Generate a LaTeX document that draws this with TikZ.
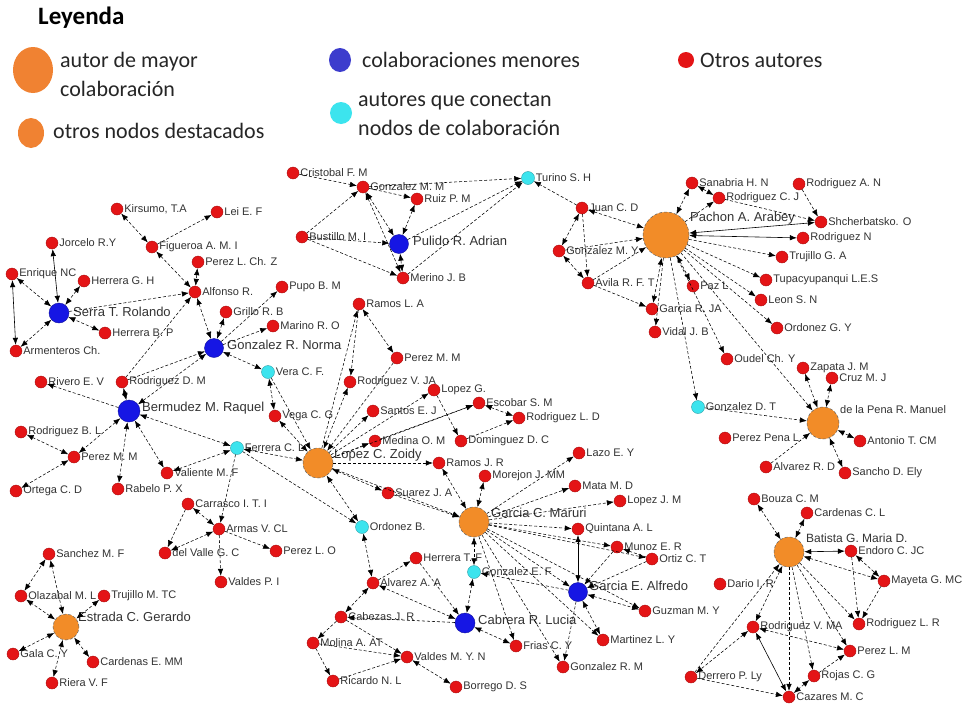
\documentclass[tikz,border=0pt]{standalone}
\usepackage{fontspec}
\usetikzlibrary{arrows.meta,shapes.geometric}
\newfontfamily\lblfont{Liberation Sans}
\newfontfamily\legfont{Carlito}
\definecolor{nred}{RGB}{228,20,22}
\definecolor{nblue}{RGB}{22,22,228}
\definecolor{ncyan}{RGB}{60,228,238}
\definecolor{norange}{RGB}{242,140,40}
\definecolor{lorange}{RGB}{240,130,50}
\definecolor{lblue}{RGB}{60,60,205}
\newcommand{\AUT}[4]{\node[rn,label={[lab]0:{#4}}] (#1) at (#2,#3) {};}
\newcommand{\CYN}[4]{\node[cn,label={[lab]0:{#4}}] (#1) at (#2,#3) {};}
\newcommand{\HUB}[8]{\node[#2,minimum size=#3pt] (#1) at (#4,#5) {}; \node[hl,anchor=west] (#1-l) at (#6,#7) {#8};}
\tikzset{
  rn/.style={circle,fill=nred,draw=nred!75!black,line width=0.4pt,minimum size=12pt,inner sep=0pt},
  cn/.style={circle,fill=ncyan,draw=ncyan!70!black,line width=0.4pt,minimum size=13pt,inner sep=0pt},
  bn/.style={circle,fill=nblue,draw=nblue!70!black,line width=0.4pt,inner sep=0pt},
  on/.style={circle,fill=norange,draw=black!60,densely dashed,line width=0.5pt,inner sep=0pt},
  lab/.style={font=\lblfont\fontsize{11}{13}\selectfont,text=black!80,inner sep=1pt,label distance=0pt},
  hl/.style={font=\lblfont\fontsize{13}{15}\selectfont,text=black!80,inner sep=0pt},
  leg/.style={font=\legfont\fontsize{22}{26}\selectfont,text=black!85,anchor=west,inner sep=0pt},
  ed/.style={black,line width=0.55pt,dash pattern=on 3pt off 2pt,-{Latex[length=7pt,width=5.5pt]}},
  edd/.style={black,line width=0.55pt,dash pattern=on 3pt off 2pt,{Latex[length=7pt,width=5.5pt]}-{Latex[length=7pt,width=5.5pt]}},
  es/.style={black,line width=0.6pt,{Latex[length=7pt,width=5.5pt]}-{Latex[length=7pt,width=5.5pt]}},
}
\begin{document}
\begin{tikzpicture}[x=1pt,y=-1pt]
\fill[white] (0,0) rectangle (963,704);
\useasboundingbox (0,0) rectangle (963,704);
% ---------- legend
\node[anchor=west,inner sep=0pt,font=\legfont\bfseries\fontsize{25}{28}\selectfont] (leyenda) at (38,18) {Leyenda};
\node[ellipse,fill=lorange,minimum width=40pt,minimum height=46pt,inner sep=0pt] (lg1) at (33,70) {};
\node[leg] (lg1a) at (60,62) {autor de mayor};
\node[leg] (lg1b) at (60,89) {colaboración};
\node[ellipse,fill=lorange,minimum width=26pt,minimum height=30pt,inner sep=0pt] (lg2) at (31,133) {};
\node[leg] (lg2a) at (53,131) {otros nodos destacados};
\node[ellipse,fill=lblue,minimum width=22pt,minimum height=24pt,inner sep=0pt] (lg3) at (340,60) {};
\node[leg] (lg3a) at (362,60) {colaboraciones menores};
\node[circle,fill=ncyan,minimum size=22pt,inner sep=0pt] (lg4) at (341,113) {};
\node[leg] (lg4a) at (358,101) {autores que conectan};
\node[leg] (lg4b) at (358,128) {nodos de colaboración};
\node[circle,fill=nred,minimum size=16pt,inner sep=0pt] (lg5) at (686,60) {};
\node[leg] (lg5a) at (700,60) {Otros autores};
% ---------- hubs
\HUB{ser}{bn}{20}{59}{313}{73}{312}{Serra T. Rolando}
\HUB{nor}{bn}{19}{214}{348}{227}{345}{Gonzalez R. Norma}
\HUB{ber}{bn}{22}{129}{411}{142}{408}{Bermudez M. Raquel}
\HUB{pul}{bn}{19}{399}{244}{413}{241}{Pulido R. Adrian}
\HUB{cab}{bn}{20}{465}{623}{478}{620}{Cabrera R. Lucia}
\HUB{gea}{bn}{19}{578}{592}{589}{586}{Garcia E. Alfredo}
\HUB{zoi}{on}{30}{318}{463}{334}{455}{Lopez C. Zoidy}
\HUB{mau}{on}{30}{474}{522}{491}{513}{Garcia C. Maruri}
\HUB{pac}{on}{46}{666}{235}{690}{218}{Pachon A. Arabey}
\HUB{pen}{on}{32}{823}{423}{840}{410}{\fontsize{11}{13}\selectfont de la Pena R. Manuel}
\HUB{bat}{on}{30}{789}{552}{806}{538}{\fontsize{12}{14}\selectfont Batista G. Maria D.}
\HUB{est}{on}{26}{66}{627}{78}{617}{Estrada C. Gerardo}
% ---------- left cluster
\AUT{jor}{52}{243}{Jorcelo R.Y}
\AUT{enr}{12}{274}{Enrique NC}
\AUT{hgh}{84}{281}{Herrera G. H}
\AUT{hbp}{105}{333}{Herrera B. P}
\AUT{arm}{16}{351}{Armenteros Ch.}
\AUT{kir}{117}{209}{Kirsumo, T.A}
\AUT{lei}{217}{212}{Lei E. F}
\AUT{fig}{152}{247}{Figueroa A. M. I}
\AUT{plc}{198}{262}{Perez L. Ch. Z}
\AUT{alf}{195}{292}{Alfonso R.}
\AUT{pup}{282}{287}{Pupo B. M}
\AUT{gri}{226}{312}{Grillo R. B}
\AUT{mar}{273}{326}{Marino R. O}
\CYN{ver}{268}{372}{Vera C. F.}
\AUT{rdm}{122}{382}{Rodriguez D. M}
\AUT{riv}{41}{382}{Rivero E. V}
\AUT{veg}{275}{416}{Vega C. G}
\AUT{rbl}{21}{432}{Rodriguez B. L}
\AUT{pmm}{74}{457}{Perez M. M}
\CYN{fer}{237}{448}{Ferrera C. L}
\AUT{val}{167}{473}{Valiente M. F}
\AUT{ort}{16}{491}{Ortega C. D}
\AUT{rab}{118}{489}{Rabelo P. X}
\AUT{car}{188}{504}{Carrasco I. T. I}
\AUT{arv}{219}{529}{Armas V. CL}
\AUT{dvg}{165}{553}{del Valle G. C}
\AUT{plo}{276}{551}{Perez L. O}
\AUT{vpi}{221}{582}{Valdes P. I}
% ---------- Estrada cluster
\AUT{smf}{49}{554}{Sanchez M. F}
\AUT{ola}{21}{596}{Olazabal M. L}
\AUT{tmt}{104}{596}{Trujillo M. TC}
\AUT{gal}{13}{654}{Gala C. Y}
\AUT{cem}{93}{662}{Cardenas E. MM}
\AUT{rvf}{52}{683}{Riera V. F}
% ---------- top centre
\AUT{cri}{293}{173}{Cristobal F. M}
\AUT{gmm}{363}{187}{Gonzalez M. M}
\AUT{rpm}{417}{199}{Ruiz P. M}
\CYN{tur}{528}{178}{Turino S. H}
\AUT{bus}{302}{237}{Bustillo M. I}
\AUT{mjb}{403}{278}{Merino J. B}
\AUT{rla}{359}{304}{Ramos L. A}
\AUT{ppm}{397}{358}{Perez M. M}
% ---------- Zoidy cluster
\AUT{rvj}{350}{382}{Rodriguez V. JA}
\AUT{lpg}{434}{390}{Lopez G.}
\AUT{esc}{479}{403}{Escobar S. M}
\AUT{sej}{373}{411}{Santos E. J}
\AUT{rld}{519}{418}{Rodriguez L. D}
\AUT{mom}{375}{441}{Medina O. M}
\AUT{ddc}{461}{441}{Dominguez D. C}
\AUT{rjr}{439}{463}{Ramos J. R}
\AUT{suj}{388}{493}{Suarez J. A}
\CYN{orb}{362}{527}{Ordonez B.}
% ---------- Maruri cluster
\AUT{lez}{579}{453}{Lazo E. Y}
\AUT{mjm}{485}{476}{Morejon J. MM}
\AUT{mmd}{575}{486}{Mata M. D}
\AUT{ljm}{620}{501}{Lopez J. M}
\AUT{qal}{578}{529}{Quintana A. L}
\AUT{mer}{617}{547}{Munoz E. R}
\AUT{oct}{652}{559}{Ortiz C. T}
\AUT{htf}{416}{558}{Herrera T. F}
\CYN{gef}{474}{572}{Gonzalez E. F}
\AUT{gmy}{645}{611}{Guzman M. Y}
\AUT{aaa}{373}{583}{Alvarez A. A}
\AUT{cjr}{341}{617}{Cabezas J. R}
\AUT{mly}{603}{640}{Martinez L. Y}
\AUT{mat}{313}{643}{Molina A. AT}
\AUT{fcy}{516}{646}{Frias C. Y}
\AUT{vmy}{407}{657}{Valdes M. Y. N}
\AUT{grm}{563}{667}{Gonzalez R. M}
\AUT{rnl}{333}{681}{Ricardo N. L}
\AUT{bds}{456}{687}{Borrego D. S}
% ---------- Pachon cluster
\AUT{jcd}{582}{208}{Juan C. D}
\AUT{gmt}{559}{251}{Gonzalez M. Y}
\AUT{avi}{588}{283}{Avila R. F. T}
\AUT{san}{692}{183}{Sanabria H. N}
\AUT{rcj}{719}{198}{Rodriguez C. J}
\AUT{ran}{799}{184}{Rodriguez A. N}
\AUT{shc}{821}{222}{Shcherbatsko. O}
\AUT{rno}{803}{238}{Rodriguez N}
\AUT{tga}{782}{257}{Trujillo G. A}
\AUT{tup}{766}{280}{Tupacyupanqui L.E.S}
\AUT{lsn}{761}{300}{Leon S. N}
\AUT{ogy}{777}{328}{Ordonez G. Y}
\AUT{paz}{693}{286}{Paz L}
\AUT{grj}{652}{309}{Garcia R. JA}
\AUT{vjb}{655}{332}{Vidal J. B}
\AUT{och}{727}{359}{Oudel Ch. Y}
\AUT{zjm}{803}{368}{Zapata J. M}
\AUT{cmj}{832}{378}{Cruz M. J}
\CYN{gdt}{698}{407}{Gonzalez D. T}
\AUT{ppl}{725}{438}{Perez Pena L.}
\AUT{atc}{860}{441}{Antonio T. CM}
\AUT{ard}{766}{467}{Alvarez R. D}
\AUT{sde}{845}{473}{Sancho D. Ely}
% ---------- Batista cluster
\AUT{bcm}{754}{499}{Bouza C. M}
\AUT{ccl}{807}{513}{Cardenas C. L}
\AUT{ecj}{851}{551}{Endoro C. JC}
\AUT{mgm}{884}{581}{Mayeta G. MC}
\AUT{dir}{720}{584}{Dario I. R}
\AUT{rvm}{753}{627}{Rodriguez V. MA}
\AUT{rlr}{859}{624}{Rodriguez L. R}
\AUT{plm}{850}{651}{Perez L. M}
\AUT{rcg}{814}{676}{Rojas C. G}
\AUT{dpl}{691}{677}{Derrero P. Ly}
\AUT{cmc}{789}{697}{Cazares M. C}
% ---------- edges
\foreach \a/\b in {enr/ser,hgh/ser,hbp/ser,arm/ser,kir/fig,fig/alf,plc/alf,alf/nor,nor/gri,nor/ver,ber/nor,ber/rdm,ber/pmm,ber/rab,ber/val,ber/fer,pmm/rbl,pmm/ort,fer/zoi,fer/val,car/arv,arv/dvg,ver/veg,veg/zoi,
  est/smf,est/ola,est/tmt,est/gal,est/rvf,est/cem,ola/smf,
  gmm/pul,gmm/mjb,rpm/pul,pul/mjb,
  jcd/gmt,jcd/pac,gmt/avi,pac/san,san/rcj,pac/paz,pac/grj,
  zjm/pen,cmj/pen,atc/pen,sde/pen,
  bat/bcm,bat/ccl,bat/mgm,bat/rvm,ecj/mgm,rvm/dpl,rvm/plm,rcg/cmc,
  zoi/rvj,rla/ppm,esc/rld,rjr/mau,zoi/suj,zoi/orb,orb/aaa,
  mau/mjm,mau/gef,gea/gmy,gea/mly,gef/cab,cab/aaa,cab/fcy,aaa/cjr,vmy/bds}
  \draw[edd] (\a) -- (\b);
\foreach \a/\b in {ser/alf,fig/lei,rdm/alf,nor/pup,nor/mar,rdm/nor,ber/riv,fer/arv,fer/orb,car/dvg,arv/plo,arv/vpi,ver/zoi,
  cri/gmm,gmm/rpm,bus/pul,bus/gmm,bus/mjb,gmm/tur,pul/tur,mjb/tur,jcd/tur,
  jcd/avi,gmt/pac,avi/pac,pac/rcj,rcj/shc,ran/shc,pac/tga,pac/tup,pac/lsn,pac/ogy,pac/vjb,pac/och,pac/gdt,pac/pen,avi/grj,gdt/pen,ard/pen,
  bat/rlr,dpl/bat,bat/plm,bat/rcg,bat/cmc,ecj/rlr,mgm/rlr,dpl/cmc,rcg/plm,
  zoi/rla,rla/rvj,ppm/zoi,zoi/sej,zoi/mom,zoi/esc,zoi/lpg,lpg/ddc,ddc/rld,mom/esc,zoi/rjr,suj/mau,zoi/mau,
  mau/lez,mau/mmd,mau/ljm,mau/qal,mau/mer,mau/oct,mau/gea,mau/gmy,mau/mly,mau/grm,mau/fcy,mer/gea,oct/gea,oct/mer,gea/gef,gea/grm,
  htf/cab,aaa/htf,cab/cjr,cjr/mat,cjr/vmy,mat/rnl,mat/vmy,rnl/vmy}
  \draw[ed] (\a) -- (\b);
\foreach \a/\b in {jor/ser,enr/arm,pac/shc,pac/rno,qal/gea,bat/ecj,rvm/cmc}
  \draw[es] (\a) -- (\b);
\end{tikzpicture}
\end{document}
